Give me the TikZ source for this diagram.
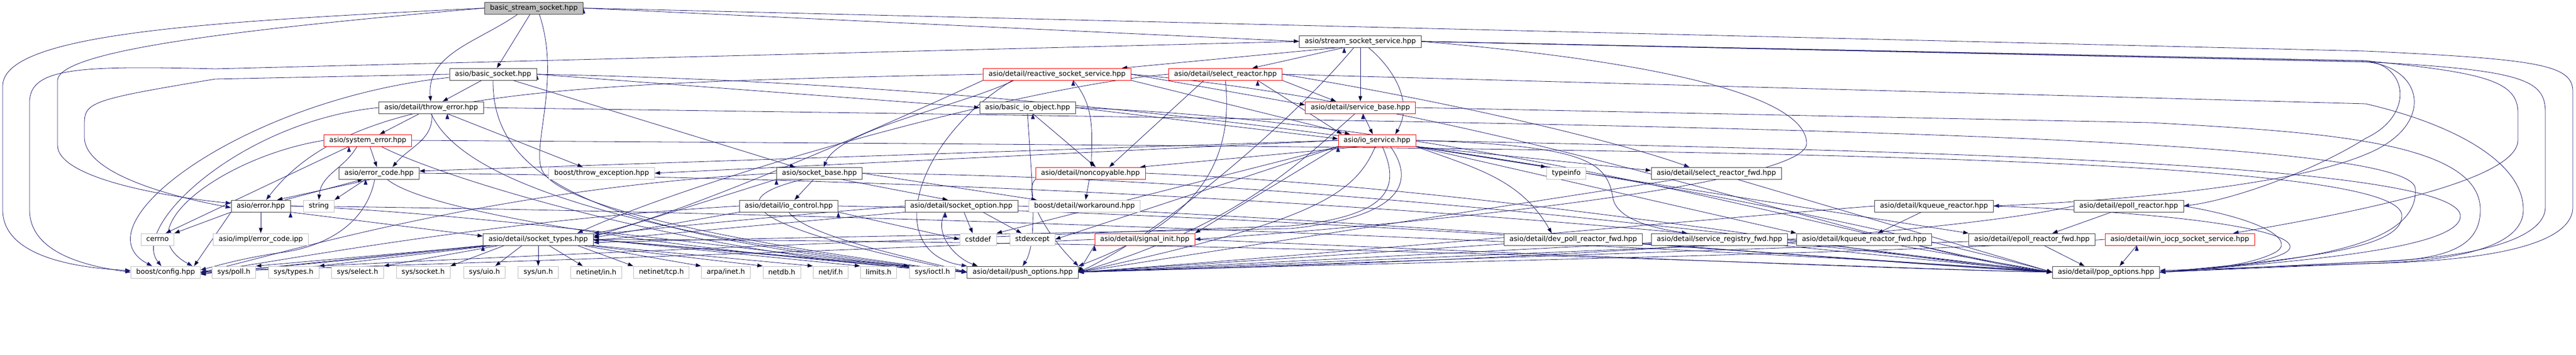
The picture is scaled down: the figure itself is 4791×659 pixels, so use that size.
\documentclass[tikz,border=0pt]{standalone}
\usepackage{fontspec}
\setmainfont{DejaVu Sans}
\usepackage{xcolor}
\usepackage{tikz}
\usetikzlibrary{arrows.meta, positioning, backgrounds}

\definecolor{edgeblue}{RGB}{25,25,112}
\definecolor{boxline}{RGB}{64,64,64}
\definecolor{boxgray}{RGB}{191,191,191}
\definecolor{rootgray}{RGB}{191,191,191}

\begin{document}
\begin{tikzpicture}[
                x=1pt, y=1pt,
                hdr/.style={rectangle, draw=boxline, fill=white, line width=0.8pt, minimum height=22pt, inner xsep=10pt, inner ysep=0pt, font=\fontsize{13pt}{15pt}\selectfont},
                rootfile/.style={hdr, fill=rootgray},
                trunc/.style={hdr, draw=red},
                extfile/.style={hdr, draw=boxgray},
                dep/.style={draw=edgeblue, line width=0.8pt, -{Triangle[length=10pt,width=7pt]}}
            ]
                \useasboundingbox (0,0) rectangle (4791,-659);

                % Headers
                \node[rootfile] (bss) at (993,-15) {basic\_stream\_socket.hpp};
                \node[hdr] (sss) at (2530,-77) {asio/stream\_socket\_service.hpp};
                \node[hdr] (bsock) at (917,-138) {asio/basic\_socket.hpp};
                \node[trunc] (rss) at (1966,-138) {asio/detail/reactive\_socket\_service.hpp};
                \node[trunc] (selr) at (2279,-138) {asio/detail/select\_reactor.hpp};
                \node[hdr] (thr) at (802,-200) {asio/detail/throw\_error.hpp};
                \node[hdr] (bio) at (1911,-200) {asio/basic\_io\_object.hpp};
                \node[trunc] (sbase) at (2530,-200) {asio/detail/service\_base.hpp};
                \node[trunc] (syserr) at (684,-261) {asio/system\_error.hpp};
                \node[trunc] (ios) at (2561,-261) {asio/io\_service.hpp};
                \node[hdr] (ecode) at (705,-322) {asio/error\_code.hpp};
                \node[extfile] (bthrow) at (1119,-322) {boost/throw\_exception.hpp};
                \node[hdr] (sockb) at (1524,-322) {asio/socket\_base.hpp};
                \node[trunc] (nonc) at (2028,-322) {asio/detail/noncopyable.hpp};
                \node[extfile] (tinfo) at (2913,-322) {typeinfo};
                \node[hdr] (srfwd) at (3192,-322) {asio/detail/select\_reactor\_fwd.hpp};
                \node[hdr] (err) at (485,-383) {asio/error.hpp};
                \node[extfile] (str) at (593,-383) {string};
                \node[hdr] (ioc) at (1467,-383) {asio/detail/io\_control.hpp};
                \node[hdr] (sopt) at (1788,-383) {asio/detail/socket\_option.hpp};
                \node[extfile] (wa) at (2017,-383) {boost/detail/workaround.hpp};
                \node[hdr] (kqr) at (3597,-383) {asio/detail/kqueue\_reactor.hpp};
                \node[hdr] (epr) at (3959,-383) {asio/detail/epoll\_reactor.hpp};
                \node[extfile] (cerr) at (293,-445) {cerrno};
                \node[extfile] (eipp) at (485,-445) {asio/impl/error\_code.ipp};
                \node[hdr] (stypes) at (1001,-445) {asio/detail/socket\_types.hpp};
                \node[extfile] (cstd) at (1819,-445) {cstddef};
                \node[extfile] (stdx) at (1920,-445) {stdexcept};
                \node[trunc] (sig) at (2129,-445) {asio/detail/signal\_init.hpp};
                \node[hdr] (dpfwd) at (2926,-445) {asio/detail/dev\_poll\_reactor\_fwd.hpp};
                \node[hdr] (regfwd) at (3198,-445) {asio/detail/service\_registry\_fwd.hpp};
                \node[hdr] (kqfwd) at (3467,-445) {asio/detail/kqueue\_reactor\_fwd.hpp};
                \node[hdr] (epfwd) at (3779,-445) {asio/detail/epoll\_reactor\_fwd.hpp};
                \node[trunc] (wiocp) at (4054,-445) {asio/detail/win\_iocp\_socket\_service.hpp};
                \node[extfile] (cfg) at (308,-506) {boost/config.hpp};
                \node[extfile] (poll) at (435,-506) {sys/poll.h};
                \node[extfile] (systypes) at (546,-506) {sys/types.h};
                \node[extfile] (ssel) at (665,-506) {sys/select.h};
                \node[extfile] (ssock) at (787,-506) {sys/socket.h};
                \node[extfile] (suio) at (901,-506) {sys/uio.h};
                \node[extfile] (sun) at (1001,-506) {sys/un.h};
                \node[extfile] (nin) at (1109,-506) {netinet/in.h};
                \node[extfile] (ntcp) at (1230,-506) {netinet/tcp.h};
                \node[extfile] (ainet) at (1350,-506) {arpa/inet.h};
                \node[extfile] (ndb) at (1454,-506) {netdb.h};
                \node[extfile] (nif) at (1545,-506) {net/if.h};
                \node[extfile] (lim) at (1634,-506) {limits.h};
                \node[extfile] (sioctl) at (1734,-506) {sys/ioctl.h};
                \node[hdr] (push) at (1902,-506) {asio/detail/push\_options.hpp};
                \node[hdr] (pop) at (3917,-506) {asio/detail/pop\_options.hpp};

                \begin{scope}[on background layer]
                % basic_stream_socket.hpp
                \draw[dep] (bss.west) .. controls (400,-40) and (5,-60) .. (5,-160) -- (5,-390) .. controls (5,-470) and (120,-497) .. ([yshift=3pt]cfg.west);
                \draw[dep] (bss.west) .. controls (500,-50) and (107,-90) .. (107,-150) -- (107,-270) .. controls (107,-330) and (300,-365) .. ([yshift=5pt]err.west);
                \path[dep]
                    (bss) edge (bsock)
                    ([xshift=-30pt]bss.south) edge[out=-145,in=95] (thr)
                    (bss.east) edge (sss.west);
                \draw[dep] ([xshift=10pt]bss.south) .. controls (1045,-150) and (985,-280) .. (1010,-320) .. controls (1060,-400) and (1500,-470) .. (push.west);
                \draw[dep] (bss.east) -- (4400,-95) .. controls (4720,-110) and (4785,-120) .. (4785,-170) -- (4785,-385) .. controls (4785,-450) and (4650,-485) .. (4400,-490) -- ([yshift=3pt]pop.east);

                % stream_socket_service.hpp
                \path[dep]
                    (sss) edge (sbase)
                    ([xshift=15pt]sss.south) edge[out=-40,in=60] ([xshift=34pt]ios.north)
                    ([xshift=-40pt]sss.south) edge (rss)
                    ([xshift=-30pt]sss.south) edge ([xshift=50pt]selr.north);
                \draw[dep] (sss.west) -- (400,-128) .. controls (150,-122) and (55,-125) .. (55,-190) -- (55,-390) .. controls (55,-470) and (160,-495) .. (cfg.west);
                \draw[dep] (sss.east) -- (4400,-115) .. controls (4700,-130) and (4734,-150) .. (4734,-210) -- (4734,-385) .. controls (4734,-440) and (4620,-480) .. (4400,-487) -- (pop.east);
                \draw[dep] (sss.east) -- (4400,-113) .. controls (4480,-122) and (4490,-215) .. (4400,-257) .. controls (4300,-320) and (4150,-372) .. (epr.east);
                \draw[dep] (sss.east) -- (4400,-115) .. controls (4510,-125) and (4530,-235) .. (4400,-287) .. controls (4250,-350) and (3900,-375) .. (kqr.east);
                \draw[dep] (sss.east) -- (4400,-113) .. controls (4620,-135) and (4683,-150) .. (4683,-210) -- (4683,-260) .. controls (4683,-320) and (4500,-375) .. ([xshift=-40pt]wiocp.north east);
                \draw[dep] ([xshift=-12pt]sss.south) .. controls (2400,-230) and (2150,-440) .. (push.east);
                \draw[dep] (sss.east) .. controls (3150,-120) and (3360,-190) .. (3360,-267) .. controls (3360,-345) and (2600,-420) .. (sig.east);

                % basic_socket.hpp
                \path[dep]
                    (bsock) edge (thr)
                    (bsock) edge ([xshift=-45pt]sockb.north)
                    (bsock.east) edge (bio.west);
                \draw[dep] (bsock.west) -- (400,-147) .. controls (170,-185) and (157,-190) .. (157,-230) -- (157,-255) .. controls (157,-325) and (330,-368) .. ([yshift=-3pt]err.west);
                \draw[dep] ([yshift=-6pt]bsock.west) .. controls (450,-185) and (140,-420) .. ([xshift=-25pt]cfg.north);
                \draw[dep] (bsock.south) .. controls (915,-330) and (1100,-440) .. (push.west);
                \draw[dep] (bsock.east) .. controls (2400,-165) and (3500,-420) .. (pop.west);

                % throw_error.hpp
                \path[dep]
                    (thr) edge (syserr)
                    (thr) edge[out=-85,in=50] ([xshift=25pt]ecode.north)
                    ([xshift=30pt]thr.south) edge ([xshift=-35pt]bthrow.north);
                \draw[dep] (thr.west) .. controls (450,-225) and (240,-420) .. ([xshift=-8pt]cfg.north);
                \draw[dep] (thr.south) .. controls (850,-320) and (1100,-430) .. (push.west);
                \draw[dep] (thr.east) .. controls (3000,-230) and (4480,-245) .. (4492,-350) .. controls (4500,-455) and (4300,-485) .. (pop.east);

                % system_error.hpp
                \path[dep]
                    (syserr) edge (ecode)
                    ([xshift=-20pt]syserr.south) edge[out=-120,in=85] (str.north)
                    ([xshift=-35pt]syserr.south) edge ([xshift=15pt]cerr.north);
                \draw[dep] (syserr.west) .. controls (420,-290) and (230,-425) .. ([xshift=-15pt]cfg.north east);
                \draw[dep] ([xshift=25pt]syserr.south) .. controls (820,-330) and (1300,-480) .. (push.west);
                \draw[dep] (syserr.east) .. controls (3000,-275) and (4460,-280) .. (4467,-400) .. controls (4470,-460) and (4300,-480) .. (pop.east);

                % error_code.hpp
                \path[dep]
                    ([xshift=-15pt]ecode.south) edge ([xshift=-25pt]err.north east)
                    ([xshift=-10pt]err.north east) edge ([xshift=-30pt]ecode.south)
                    ([xshift=-25pt]ecode.south) edge (str.north east);
                \draw[dep] ([xshift=-8pt]ecode.south) .. controls (680,-420) and (600,-460) .. (520,-470) .. controls (450,-480) and (400,-495) .. ([yshift=4pt]cfg.east);
                \draw[dep] ([xshift=15pt]ecode.south) .. controls (800,-400) and (1300,-470) .. (push.west);
                \draw[dep] (ecode.east) .. controls (2500,-340) and (3500,-470) .. (pop.west);

                % error.hpp
                \path[dep]
                    (err) edge (eipp)
                    (err.south west) edge (cerr.north east)
                    (err.south west) edge ([xshift=-12pt]cfg.north east)
                    (err.south east) edge ([yshift=6pt]stypes.west);
                \draw[dep] (err.east) .. controls (900,-395) and (1500,-480) .. (push.west);
                \draw[dep] (err.east) .. controls (2000,-400) and (3500,-480) .. (pop.west);

                % socket_types.hpp
                \path[dep]
                    ([xshift=10pt]stypes.south west) edge (poll.north east)
                    ([xshift=20pt]stypes.south west) edge (systypes.north east)
                    ([xshift=30pt]stypes.south west) edge (ssel.north east)
                    ([xshift=40pt]stypes.south west) edge (ssock.north east)
                    ([xshift=-30pt]stypes.south) edge ([xshift=20pt]suio.north)
                    (stypes) edge (sun)
                    ([xshift=20pt]stypes.south) edge ([xshift=-25pt]nin.north)
                    ([xshift=-30pt]stypes.south east) edge (ntcp.north west)
                    ([xshift=-20pt]stypes.south east) edge (ainet.north west)
                    ([xshift=-10pt]stypes.south east) edge (ndb.north west)
                    (stypes.south east) edge (nif.north west)
                    (stypes.east) edge (lim.north west)
                    (stypes.east) edge (sioctl.north west)
                    (stypes.east) edge (push.west)
                    (stypes.south west) edge ([yshift=-4pt]cfg.east);
                \draw[dep] (stypes.east) .. controls (2500,-450) and (3500,-500) .. (pop.west);

                % socket_base.hpp
                \path[dep]
                    (sockb) edge (ioc)
                    ([xshift=40pt]sockb.south) edge ([xshift=-25pt]sopt.north)
                    (sockb.east) edge ([xshift=15pt]wa.north west)
                    (sockb.south west) edge ([yshift=5pt]stypes.east);
                \draw[dep] ([xshift=-30pt]sockb.south) .. controls (1340,-370) and (1380,-420) .. (push.west);
                \draw[dep] (sockb.west) .. controls (900,-350) and (500,-480) .. (cfg.east);
                \draw[dep] (sockb.east) .. controls (2500,-330) and (3500,-470) .. (pop.west);

                % io_control.hpp
                \path[dep]
                    (ioc.south west) edge ([yshift=3pt]stypes.east)
                    (ioc.south east) edge (cstd.west);
                \draw[dep] (ioc.west) .. controls (900,-410) and (500,-490) .. (cfg.east);
                \draw[dep] (ioc.south) .. controls (1500,-440) and (1700,-480) .. (push.west);
                \draw[dep] (ioc.east) .. controls (2500,-400) and (3500,-490) .. (pop.west);

                % socket_option.hpp
                \path[dep]
                    (sopt) edge ([xshift=-10pt]cstd.north)
                    ([xshift=40pt]sopt.south) edge ([xshift=-20pt]stdx.north)
                    (sopt.south west) edge ([yshift=-2pt]stypes.east)
                    ([xshift=-30pt]sopt.south) edge[out=-120,in=160] ([xshift=20pt]push.north west);
                \draw[dep] (sopt.west) .. controls (1200,-420) and (600,-495) .. (cfg.east);
                \draw[dep] (sopt.east) .. controls (2600,-410) and (3500,-490) .. (pop.west);

                % basic_io_object.hpp
                \path[dep]
                    (bio.east) edge ([yshift=3pt]ios.west)
                    ([xshift=10pt]bio.south) edge ([xshift=10pt]nonc.north);
                \draw[dep] (bio.south) .. controls (1920,-350) and (1930,-450) .. (push.north);
                \draw[dep] (bio.east) .. controls (2800,-230) and (3500,-460) .. (pop.west);

                % reactive_socket_service.hpp
                \path[dep]
                    (rss.east) edge ([yshift=5pt]sbase.west)
                    (rss.south east) edge ([xshift=-50pt]ios.north)
                    ([xshift=30pt]rss.south) edge[out=-50,in=90] ([xshift=2pt]nonc.north);
                \draw[dep] (rss.west) .. controls (1000,-155) and (650,-170) .. ([xshift=10pt]err.north);
                \draw[dep] ([xshift=-80pt]rss.south) .. controls (1780,-200) and (1560,-240) .. ([xshift=8pt]sockb.north);
                \draw[dep] ([xshift=-83pt]rss.south) .. controls (1700,-260) and (1640,-470) .. (push.north west);
                \draw[dep] (rss.south west) .. controls (1500,-300) and (1200,-420) .. (stypes.north east);
                \draw[dep] (rss.east) .. controls (2800,-200) and (3500,-470) .. (pop.west);

                % select_reactor.hpp
                \path[dep]
                    (selr.south east) edge ([xshift=-45pt]sbase.north)
                    ([xshift=-40pt]selr.south) edge ([xshift=35pt]nonc.north)
                    ([xshift=60pt]selr.south) edge ([xshift=-65pt]ios.north);
                \draw[dep] (selr.east) .. controls (2700,-190) and (3000,-260) .. ([xshift=-50pt]srfwd.north);
                \draw[dep] (selr.south) .. controls (2295,-300) and (2230,-410) .. (push.north east);
                \draw[dep] (selr.west) .. controls (1900,-160) and (1300,-330) .. ([xshift=-30pt]stypes.north east);
                \draw[dep] (selr.east) -- (4400,-193) .. controls (4560,-230) and (4693,-300) .. (4693,-390) .. controls (4693,-450) and (4600,-485) .. (4400,-490) -- (pop.east);

                % service_base.hpp
                \path[dep] ([xshift=5pt]sbase.south) edge ([xshift=-8pt]ios.north);
                \draw[dep] ([xshift=-10pt]sbase.south) .. controls (2420,-300) and (2300,-420) .. (push.east);
                \draw[dep] (sbase.east) -- (4000,-228) .. controls (4300,-245) and (4613,-260) .. (4613,-390) .. controls (4613,-460) and (4550,-485) .. (4400,-487) -- (pop.east);

                % io_service.hpp
                \path[dep]
                    (ios.west) edge ([yshift=4pt]ecode.east)
                    (ios.west) edge (bthrow.east)
                    ([xshift=-30pt]ios.south) edge ([xshift=-10pt]nonc.north east)
                    (ios.south east) edge (tinfo.north west)
                    (ios.south east) edge ([yshift=5pt]srfwd.west)
                    (ios.south east) edge[out=-20,in=120] ([xshift=-40pt]dpfwd.north)
                    (ios.south east) edge (kqfwd.north west)
                    (ios.south east) edge (epfwd.north west)
                    (ios.south west) edge (sig.north east)
                    (ios.south west) edge (stdx.east)
                    (ios.south west) edge (cstd.north east);
                \draw[dep] (ios.east) .. controls (2950,-270) and (2990,-300) .. (3000,-370) .. controls (3010,-410) and (3080,-425) .. ([xshift=-60pt]regfwd.north);
                \draw[dep] ([xshift=-3pt]ios.south) .. controls (2520,-360) and (2450,-410) .. (push.east);
                \draw[dep] ([xshift=10pt]ios.south) .. controls (2600,-340) and (2600,-400) .. (2400,-420) .. controls (1800,-440) and (600,-490) .. ([yshift=-2pt]cfg.east);
                \draw[dep] ([xshift=25pt]ios.south) .. controls (2620,-320) and (2640,-400) .. (2400,-425) .. controls (1600,-440) and (1300,-445) .. ([yshift=-6pt]stypes.east);
                \draw[dep] (ios.east) .. controls (3500,-280) and (4560,-300) .. (4576,-400) .. controls (4580,-460) and (4300,-485) .. (pop.east);

                % noncopyable.hpp
                \path[dep] (nonc) edge (wa);
                \draw[dep] (nonc.south west) .. controls (1900,-360) and (1950,-440) .. (push.north east);
                \draw[dep] (nonc.east) .. controls (2800,-350) and (3500,-480) .. (pop.west);

                % signal_init.hpp
                \path[dep] (sig.south west) edge (push.east);
                \draw[dep] (sig.east) .. controls (2800,-470) and (3500,-500) .. (pop.west);
                \draw[dep] (sig.west) .. controls (1500,-470) and (800,-490) .. (cfg.east);

                % forward headers
                \path[dep]
                    (srfwd) edge (push.east) (srfwd) edge (pop.west)
                    (dpfwd) edge (push.east) (dpfwd) edge (pop.west)
                    (regfwd) edge (push.east) (regfwd) edge (pop.west)
                    (kqfwd) edge (push.east) (kqfwd) edge (pop.west)
                    (epfwd) edge (push.east) (epfwd) edge ([xshift=-40pt]pop.north);

                % reactors
                \path[dep]
                    (kqr) edge ([xshift=25pt]kqfwd.north)
                    (epr) edge ([xshift=38pt]epfwd.north)
                    ([xshift=-80pt]wiocp.south) edge ([xshift=25pt]pop.north);
                \draw[dep] (kqr.west) .. controls (3200,-405) and (2500,-470) .. (push.east);
                \draw[dep] (epr.west) .. controls (3650,-430) and (3000,-480) .. (push.east);
                \draw[dep] (kqr.east) .. controls (4150,-400) and (4300,-440) .. (4250,-470) .. controls (4200,-495) and (4100,-500) .. (pop.east);
                \draw[dep] (epr.east) .. controls (4220,-410) and (4270,-450) .. (4230,-470) .. controls (4180,-495) and (4100,-500) .. (pop.east);
                \draw[dep] (wiocp.west) .. controls (3600,-470) and (2500,-490) .. (push.east);
                \end{scope}
            \end{tikzpicture}
\end{document}
